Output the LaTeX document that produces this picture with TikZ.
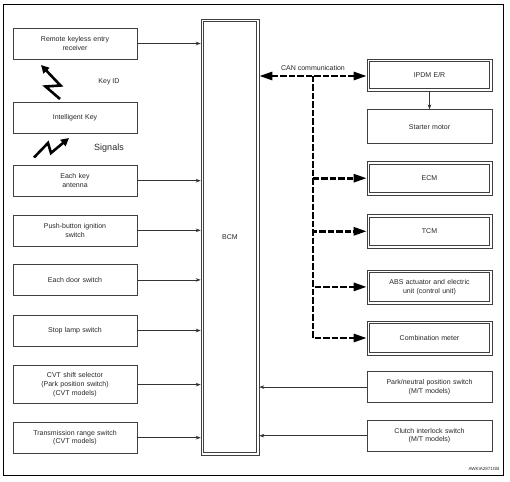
\documentclass[tikz,border=0pt]{standalone}
\usepackage{fontspec}
\setmainfont{Liberation Sans}
\usepackage{tikz}
\usetikzlibrary{shapes,arrows.meta,positioning,calc}
\usepackage{xcolor}

\begin{document}
\begin{tikzpicture}[
    x=1pt, y=-1pt,
    node distance=18pt,
    box/.style={rectangle, draw=black!75, line width=0.6pt, text=black!85, text width=115pt, align=center, minimum width=124pt, minimum height=31pt, inner sep=2pt, font=\fontsize{7}{8.6}\selectfont},
    dbox/.style={box, minimum width=125pt, minimum height=34pt},
    inner/.style={draw=black!75, line width=0.6pt},
    arrow/.style={-{Stealth[length=5pt,width=3.6pt]}, draw=black!80, line width=0.6pt},
    can/.style={line width=2.6pt, dash pattern=on 6.5pt off 2pt},
    canarrow/.style={can, -{Triangle[length=13pt,width=8pt]}},
    bolt/.style={line width=2.6pt, line join=miter, -{Triangle[length=8pt,width=8pt]}},
    lbl/.style={text=black!85, font=\fontsize{7}{8.6}\selectfont}
]
    \useasboundingbox (0,0) rectangle (510,481);
    \draw[line width=0.8pt] (3,4) rectangle (503,475);

    % BCM
    \node[dbox, minimum width=58pt, text width=40pt, minimum height=436pt] (bcm) at (230,237) {BCM};

    % inputs on the left
    \node[box] (rke) at (75,43.5) {Remote keyless entry\\receiver};
    \node[box, below=43pt of rke] (ikey) {Intelligent Key};
    \node[box, below=31pt of ikey] (antenna) {Each key\\antenna};
    \node[box, below=of antenna] (push) {Push-button ignition\\switch};
    \node[box, below=of push] (door) {Each door switch};
    \node[box, below=19pt of door] (stop) {Stop lamp switch};
    \node[box, below=19pt of stop, minimum height=38pt] (cvt) {CVT shift selector\\(Park position switch)\\(CVT models)};
    \node[box, below=of cvt] (trange) {Transmission range switch\\(CVT models)};

    % units on the right
    \node[dbox, minimum height=32pt] (ipdm) at (429.5,75) {IPDM E/R};
    \node[dbox, below=of ipdm] (starter) {Starter motor};
    \node[dbox, below=17pt of starter] (ecm) {ECM};
    \node[dbox, below=18.5pt of ecm] (tcm) {TCM};
    \node[dbox, below=21pt of tcm] (abs) {ABS actuator and electric\\unit (control unit)};
    \node[dbox, below=16.5pt of abs] (combi) {Combination meter};
    \node[box, minimum width=125pt, below=16pt of combi] (pnp) {Park/neutral position switch\\(M/T models)};
    \node[box, minimum width=125pt, below=17pt of pnp] (clutch) {Clutch interlock switch\\(M/T models)};

    % second line of the double frames
    \foreach \n in {bcm, ipdm, ecm, tcm, abs, combi}
        \draw[inner] ($(\n.north west)+(3,3)$) rectangle ($(\n.south east)+(-3,-3)$);

    % wireless key signals
    \draw[bolt] (60,99) -- (45.5,86.5) -- (60.5,85.5) -- (41,65);
    \draw[bolt] (34,157.5) -- (48,143) -- (51,153) -- (69,138);
    \node[lbl] (keyid) at (109,82) {Key ID};
    \node[lbl, font=\fontsize{9}{11}\selectfont] (signals) at (109,148) {Signals};

    % inputs to BCM
    \foreach \src in {rke, antenna, push, door, stop, cvt, trange}
        \draw[arrow] (\src.east) -- (\src.east -| bcm.west);
    \foreach \src in {pnp, clutch}
        \draw[arrow] (\src.west) -- (\src.west -| bcm.east);
    \draw[arrow] (ipdm.south) -- (starter.north);

    % CAN communication
    \coordinate (bus) at (313,76);
    \draw[can, {Triangle[length=13pt,width=8pt]}-{Triangle[length=13pt,width=8pt]}] (bcm.east |- bus) -- (ipdm.west |- bus);
    \node[lbl, above=2pt of bus] (canlbl) {CAN communication};
    \foreach \dst in {ecm, tcm, abs, combi}
        \draw[canarrow] (bus) |- (\dst.west);

    \node[text=black!85, font=\fontsize{4.5}{5}\selectfont] (code) at (484,469) {AWKIA2871GB};
\end{tikzpicture}
\end{document}
